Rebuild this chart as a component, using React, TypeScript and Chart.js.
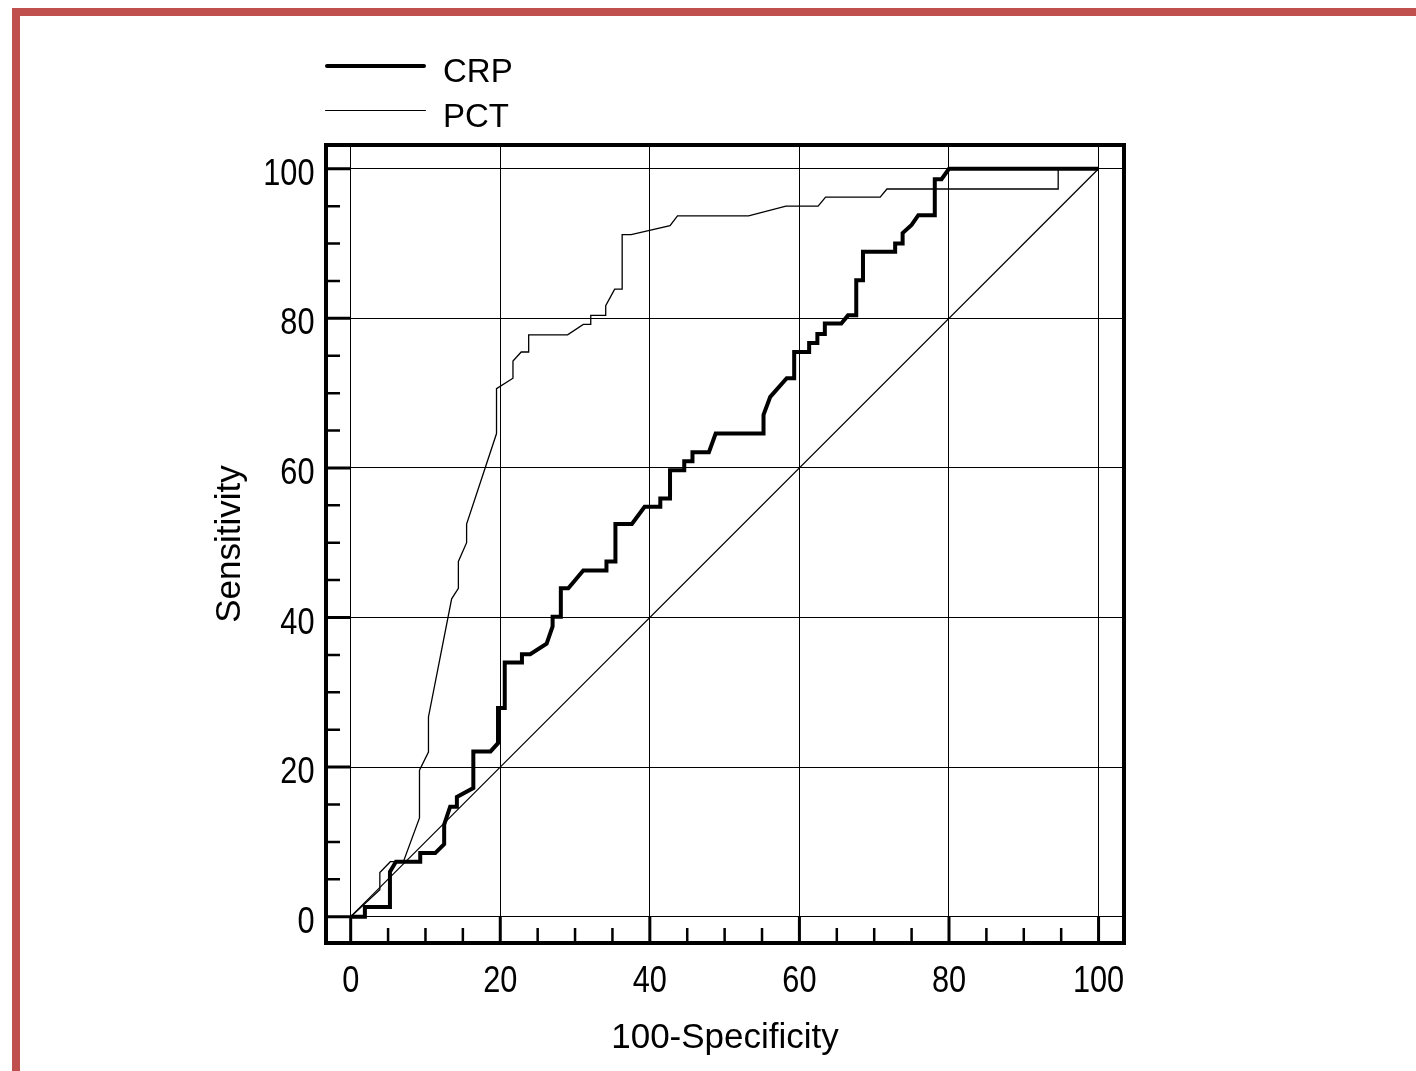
import React, { useEffect, useRef } from "react";
import { Chart, registerables } from "chart.js";

Chart.register(...registerables);

// ---- data ----
const seriesNames = ["CRP", "PCT"];

const crpX = [0, 1.9, 1.9, 5.25, 5.25, 6.05, 9.3, 9.3, 11.3, 12.5, 12.5, 13.3, 14.2, 14.2, 16.4, 16.4, 18.7, 19.7, 19.7, 20.6, 20.6, 22.9, 22.9, 24.0, 26.2, 27.0, 27.0, 28.1, 28.1, 29.1, 31.1, 34.2, 34.2, 35.4, 35.4, 37.6, 39.3, 41.4, 41.4, 42.7, 42.7, 44.6, 44.6, 45.7, 45.7, 47.9, 48.8, 55.2, 55.2, 56.1, 58.3, 59.3, 59.3, 61.3, 61.3, 62.4, 62.4, 63.4, 63.4, 65.6, 66.5, 67.6, 67.6, 68.5, 68.5, 72.8, 72.8, 73.8, 73.8, 75.0, 75.9, 78.1, 78.1, 79.0, 80.0, 100];
const crpY = [0, 0, 1.3, 1.3, 6.0, 7.35, 7.35, 8.5, 8.5, 9.7, 12.3, 14.7, 14.7, 16.0, 17.2, 22.1, 22.1, 23.2, 27.9, 27.9, 34.0, 34.0, 35.1, 35.1, 36.5, 38.8, 40.1, 40.1, 43.9, 43.9, 46.3, 46.3, 47.5, 47.5, 52.5, 52.5, 54.8, 54.8, 55.9, 55.9, 59.7, 59.7, 60.9, 60.9, 62.1, 62.1, 64.6, 64.6, 67.1, 69.5, 72.0, 72.0, 75.5, 75.5, 76.7, 76.7, 77.9, 77.9, 79.3, 79.3, 80.4, 80.4, 85.1, 85.1, 88.9, 88.9, 90.0, 90.0, 91.4, 92.5, 93.8, 93.8, 98.6, 98.6, 100, 100];

const pctX = [0, 3.9, 3.9, 5.3, 7.05, 9.2, 9.2, 10.4, 10.4, 13.5, 14.4, 14.4, 15.5, 15.5, 19.5, 19.5, 21.7, 21.7, 22.8, 23.8, 23.8, 29.0, 31.1, 32.1, 32.1, 34.1, 34.1, 35.3, 36.3, 36.3, 37.5, 42.7, 43.7, 53.2, 58.2, 62.5, 63.5, 70.8, 71.7, 94.6, 94.6, 100];
const pctY = [0, 3.6, 5.9, 7.35, 7.35, 13.2, 19.6, 22.0, 26.7, 42.5, 43.9, 47.5, 50.0, 52.5, 64.6, 70.6, 72.0, 74.3, 75.5, 75.5, 77.8, 77.8, 79.2, 79.2, 80.4, 80.4, 81.7, 83.9, 83.9, 91.2, 91.2, 92.4, 93.7, 93.7, 95.0, 95.0, 96.2, 96.2, 97.3, 97.3, 100, 100];

const diagX = [0, 100];
const diagY = [0, 100];

const majorTicks = [0, 20, 40, 60, 80, 100];
const minorTicks = [5, 10, 15, 25, 30, 35, 45, 50, 55, 65, 70, 75, 85, 90, 95];

const xTitle = "100-Specificity";
const yTitle = "Sensitivity";

// ---- styles ----
const TEXT_FONT = "'Liberation Sans', Arial, Helvetica, sans-serif";
const TICK_SIZE = 37;
const TICK_SQUEEZE = 0.83; // narrow (condensed) tick-label face

const toPts = (xs: number[], ys: number[]) => xs.map((x, i) => ({ x, y: ys[i] }));

const framePlugin = {
  id: "rocFrame",
  afterDraw(chart: any) {
    const { ctx, chartArea, scales } = chart;
    const { left, top, right, bottom } = chartArea;
    const xs = scales.x;
    const ys = scales.y;
    const x0 = xs.getPixelForValue(0);
    const y0 = ys.getPixelForValue(0);
    ctx.save();
    ctx.strokeStyle = "#000";
    ctx.lineCap = "butt";
    // minor ticks
    ctx.lineWidth = 2.5;
    ctx.beginPath();
    for (const v of minorTicks) {
      const px = xs.getPixelForValue(v);
      ctx.moveTo(px, bottom);
      ctx.lineTo(px, bottom - 15);
      const py = ys.getPixelForValue(v);
      ctx.moveTo(left, py);
      ctx.lineTo(left + 14, py);
    }
    ctx.stroke();
    // major ticks (thick, from frame to zero lines)
    ctx.lineWidth = 3;
    ctx.beginPath();
    for (const v of majorTicks) {
      const px = xs.getPixelForValue(v);
      ctx.moveTo(px, bottom);
      ctx.lineTo(px, y0);
      const py = ys.getPixelForValue(v);
      ctx.moveTo(left, py);
      ctx.lineTo(x0, py);
    }
    ctx.stroke();
    // frame
    ctx.lineWidth = 4;
    ctx.strokeRect(left, top, right - left, bottom - top);

    // tick labels, taken from the scales' own ticks, in a narrow face
    ctx.fillStyle = "#000";
    ctx.font = `${TICK_SIZE}px ${TEXT_FONT}`;
    ctx.textBaseline = "alphabetic";
    for (const t of xs.ticks) {
      const px = xs.getPixelForValue(t.value);
      ctx.save();
      ctx.translate(px, bottom + 49);
      ctx.scale(TICK_SQUEEZE, 1);
      ctx.textAlign = "center";
      ctx.fillText(String(t.label), 0, 0);
      ctx.restore();
    }
    for (const t of ys.ticks) {
      const py = ys.getPixelForValue(t.value);
      ctx.save();
      ctx.translate(left - 11.5, py + 16);
      ctx.scale(TICK_SQUEEZE, 1);
      ctx.textAlign = "right";
      ctx.fillText(String(t.label), 0, 0);
      ctx.restore();
    }
    ctx.restore();
  },
};

function RocChart() {
  const ref = useRef<HTMLCanvasElement | null>(null);
  useEffect(() => {
    if (!ref.current) return;
    const chart = new Chart(ref.current, {
      type: "scatter",
      data: {
        datasets: [
          {
            label: seriesNames[0],
            data: toPts(crpX, crpY),
            showLine: true,
            borderColor: "#000",
            backgroundColor: "#000",
            borderWidth: 4,
            pointRadius: 0,
            tension: 0,
            fill: false,
            borderJoinStyle: "miter",
          },
          {
            label: seriesNames[1],
            data: toPts(pctX, pctY),
            showLine: true,
            borderColor: "#000",
            backgroundColor: "#000",
            borderWidth: 1.3,
            pointRadius: 0,
            tension: 0,
            fill: false,
          },
          {
            label: "reference",
            data: toPts(diagX, diagY),
            showLine: true,
            borderColor: "#000",
            backgroundColor: "#000",
            borderWidth: 1.2,
            pointRadius: 0,
            tension: 0,
            fill: false,
          },
        ],
      },
      options: {
        animation: false,
        responsive: false,
        devicePixelRatio: 1,
        events: [],
        layout: { padding: { left: 190, top: 145, right: 292, bottom: 8 } },
        plugins: { legend: { display: false }, tooltip: { enabled: false }, title: { display: false } },
        scales: {
          x: {
            type: "linear",
            min: -3.3,
            max: 103.4,
            afterBuildTicks: (axis: any) => {
              axis.ticks = majorTicks.map((v) => ({ value: v }));
            },
            afterFit: (axis: any) => {
              axis.height = 120;
            },
            grid: { color: "#000", lineWidth: 1, drawTicks: false },
            border: { display: false },
            ticks: { display: false, autoSkip: false },
            title: {
              display: true,
              text: xTitle,
              color: "#000",
              font: { family: TEXT_FONT, size: 35 },
              padding: { top: 0, bottom: 4 },
            },
          },
          y: {
            type: "linear",
            min: -3.52,
            max: 103.18,
            afterBuildTicks: (axis: any) => {
              axis.ticks = majorTicks.map((v) => ({ value: v }));
            },
            afterFit: (axis: any) => {
              axis.width = 136;
            },
            grid: { color: "#000", lineWidth: 1, drawTicks: false },
            border: { display: false },
            ticks: { display: false, autoSkip: false },
            title: {
              display: true,
              text: yTitle,
              color: "#000",
              font: { family: TEXT_FONT, size: 35 },
              padding: { top: 19, bottom: 0 },
            },
          },
        },
      },
      plugins: [framePlugin],
    } as any);
    return () => chart.destroy();
  }, []);
  return (
    <canvas
      ref={ref}
      width={1416}
      height={1071}
      style={{ position: "absolute", left: 0, top: 0, width: 1416, height: 1071, display: "block" }}
    />
  );
}

const legendLineWidths = [4, 1.2];
const legendRowTops = [65.7, 110.7];

export default function App() {
  return (
    <div style={{ position: "absolute", left: 0, top: 0, width: 1416, height: 1071, overflow: "hidden", background: "#fff" }}>
      <div
        style={{
          position: "absolute",
          left: 12,
          top: 8,
          width: 1416,
          height: 1071,
          borderTop: "8px solid #C0504D",
          borderLeft: "8px solid #C0504D",
          boxSizing: "border-box",
        }}
      />
      <RocChart />
      {seriesNames.map((name, i) => (
        <React.Fragment key={name}>
          <div
            style={{
              position: "absolute",
              left: 325,
              top: legendRowTops[i] - legendLineWidths[i] / 2,
              width: 101,
              height: legendLineWidths[i],
              background: "#000",
              borderRadius: legendLineWidths[i] / 2,
            }}
          />
          <div
            style={{
              position: "absolute",
              left: 443,
              top: legendRowTops[i] - 11.9,
              fontFamily: TEXT_FONT,
              fontSize: 33,
              lineHeight: "33px",
              color: "#000",
              whiteSpace: "nowrap",
            }}
          >
            {name}
          </div>
        </React.Fragment>
      ))}
    </div>
  );
}
